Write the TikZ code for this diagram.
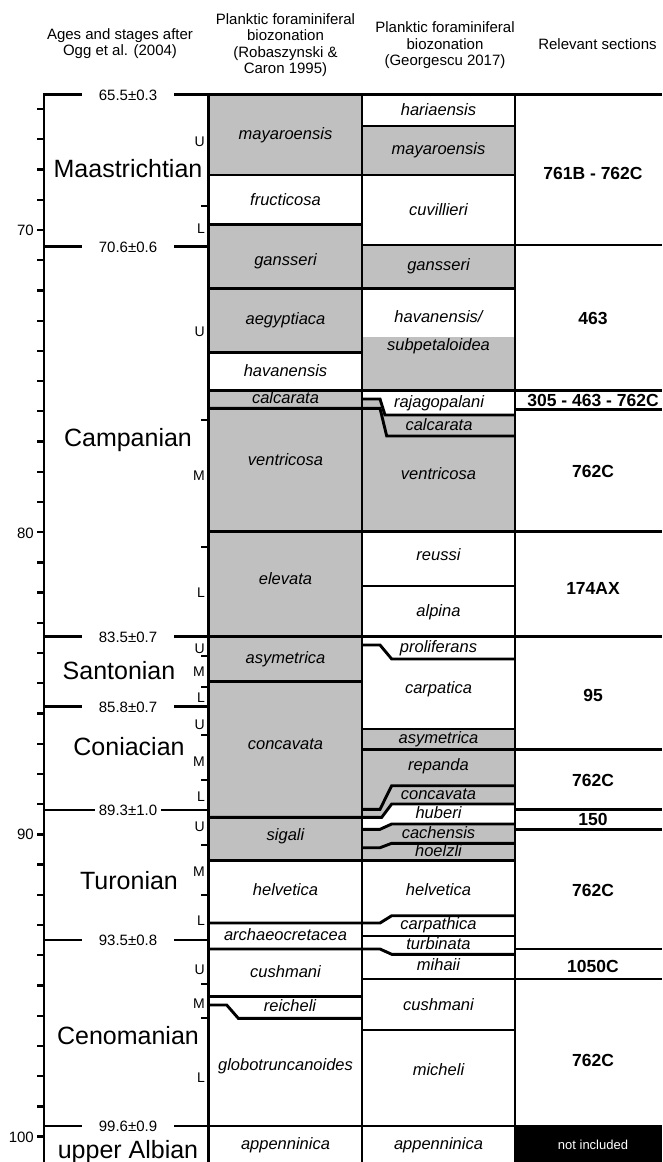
\documentclass[tikz,border=0pt]{standalone}
\usepackage{fontspec}
\setmainfont{Liberation Sans}
\usepackage{tikz}
\definecolor{zgrey}{HTML}{C0C0C0}
\tikzset{
  bnd/.style={line width=2.9pt, black},
  axtick/.style={line width=2.3pt, black},
  subtick/.style={line width=2.2pt, black},
  zone/.style={font=\fontsize{16.5}{18}\selectfont\itshape, inner sep=0pt, text height=11.5pt, text depth=3.5pt},
  stage/.style={font=\fontsize{25}{28}\selectfont, inner sep=0pt, text height=18pt, text depth=0pt},
  agelbl/.style={font=\fontsize{15}{17}\selectfont, inner sep=0pt, text height=10.7pt, text depth=0pt},
  axlbl/.style={agelbl, anchor=east},
  sub/.style={font=\fontsize{14}{16}\selectfont, inner sep=0pt, anchor=east, text height=10pt, text depth=0pt},
  sect/.style={font=\fontsize{17.5}{20}\selectfont\bfseries, inner sep=0pt, text height=12.5pt, text depth=0pt},
  hdr/.style={font=\fontsize{15}{16.3}\selectfont, align=center, inner sep=0pt, anchor=north},
}
% stage boundary with its age between two pieces of line
\newcommand{\stbnd}[5]{\draw[bnd] (44,#1) -- (#2,#1); \draw[bnd] (#3,#1) -- (208.5,#1);
  \node[agelbl] (#4) at (128,#1) {#5};}

\begin{document}
\begin{tikzpicture}[x=1pt,y=-1pt]
\useasboundingbox (0,0) rectangle (662,1162);
% grey zones
\fill[zgrey] (208.5,94.7) rectangle (362,175);
\fill[zgrey] (208.5,224.3) rectangle (362,352.7);
\fill[zgrey] (208.5,390.7) rectangle (362,860.7);
\fill[zgrey] (362,126) rectangle (515,175);
\fill[zgrey] (362,245) rectangle (515,288.3);
\fill[zgrey] (362,336.7) rectangle (515,390.7);
\fill[zgrey] (362,399) -- (380,399) -- (385,415) -- (515,415) -- (515,531.7) -- (362,531.7) -- cycle;
\fill[zgrey] (362,729) -- (515,729) -- (515,804) -- (391.7,804) -- (381.7,817.3) -- (362,817.3) -- cycle;
\fill[zgrey] (362,829.3) -- (380,829.3) -- (391.7,824) -- (515,824) -- (515,860.7) -- (362,860.7) -- cycle;
\fill[black] (515,1126) rectangle (662,1162);
% time axis
\foreach \a in {66,...,100}
  \draw[axtick] (37,{230+(\a-70)*30.22}) -- (44,{230+(\a-70)*30.22});
\foreach \y in {206,420,547,656,687,735,780,845,895,984,1018}
  \draw[subtick] (201,\y) -- (208.5,\y);
\draw[bnd] (82,94.7) -- (44,94.7) -- (44,1162);
\draw[bnd] (174,94.7) -- (662,94.7);
\foreach \x in {208.5,362,515}
  \draw[bnd] (\x,94.7) -- (\x,1162);
\node[agelbl] (a655) at (128,94.7) {65.5±0.3};
\stbnd{246.7}{82}{174}{a706}{70.6±0.6}
\stbnd{636.7}{82}{174}{a835}{83.5±0.7}
\stbnd{706.7}{82}{174}{a858}{85.8±0.7}
\stbnd{810}{95}{161}{a893}{89.3±1.0}
\stbnd{940}{82}{174}{a935}{93.5±0.8}
\stbnd{1126}{82}{174}{a996}{99.6±0.9}
\node[axlbl] (t70) at (34,230) {70};
\node[axlbl] (t80) at (34,532.7) {80};
\node[axlbl] (t90) at (34,834) {90};
\node[axlbl] (t100) at (34,1136.7) {100};
% stages
\node[stage] (maas) at (128,168) {Maastrichtian};
\node[stage] (camp) at (128,437) {Campanian};
\node[stage] (sant) at (119,670) {Santonian};
\node[stage] (coni) at (129,746) {Coniacian};
\node[stage] (turo) at (129,880) {Turonian};
\node[stage] (ceno) at (128,1035) {Cenomanian};
\node[stage] (albi) at (128,1149) {upper Albian};
\foreach \y/\s in {141.7/U,228/L,331/U,475.7/M,592/L,648/U,671.7/M,697/L,724/U,761/M,796.7/L,
  826.7/U,871.7/M,920/L,969/U,1003/M,1077/L}
  \node[sub] (s\y) at (205,\y) {\s};
% zone boundaries
\draw[bnd] (208.5,175) -- (515,175);
\draw[bnd] (208.5,224.3) -- (362,224.3);
\draw[bnd] (208.5,288.3) -- (515,288.3);
\draw[bnd] (208.5,352.7) -- (362,352.7);
\draw[bnd] (208.5,390.7) -- (662,390.7);
\draw[bnd] (208.5,408.3) -- (380,408.3) -- (386.7,436) -- (515,436);
\draw[bnd] (362,399) -- (380,399) -- (385,415) -- (515,415);
\draw[bnd] (515,409.3) -- (662,409.3);
\draw[bnd] (208.5,531.7) -- (662,531.7);
\draw[bnd] (362,586) -- (515,586);
\draw[bnd] (208.5,636.7) -- (662,636.7);
\draw[bnd] (362,645) -- (380,645) -- (391.7,659) -- (515,659);
\draw[bnd] (208.5,681.7) -- (362,681.7);
\draw[bnd] (362,729) -- (515,729);
\draw[bnd] (362,749.3) -- (662,749.3);
\draw[bnd] (515,785.7) -- (391.7,785.7) -- (380,809.3) -- (362,809.3);
\draw[bnd] (515,809.3) -- (662,809.3);
\draw[bnd] (515,804) -- (391.7,804) -- (381.7,817.3) -- (208.5,817.3);
\draw[bnd] (515,824) -- (391.7,824) -- (380,829.3) -- (362,829.3);
\draw[bnd] (515,829.3) -- (662,829.3);
\draw[bnd] (515,843.3) -- (391.7,843.3) -- (380,847.7) -- (362,847.7);
\draw[bnd] (208.5,860.7) -- (515,860.7);
\draw[bnd] (515,915.7) -- (391.7,915.7) -- (380,923) -- (208.5,923);
\draw[bnd] (362,936) -- (515,936);
\draw[bnd] (208.5,949) -- (380,949) -- (391.7,954.3) -- (515,954.3);
\draw[bnd] (515,949) -- (662,949);
\draw[bnd] (362,979) -- (662,979);
\draw[bnd] (208.5,996.7) -- (362,996.7);
\draw[bnd] (208.5,1005) -- (226.7,1005) -- (238.3,1018.3) -- (362,1018.3);
\draw[bnd] (362,1030) -- (515,1030);
\draw[bnd] (208.5,1126) -- (662,1126);
\draw[bnd] (362,126) -- (515,126);
\draw[bnd] (362,245) -- (662,245);
% Robaszynski & Caron 1995
\node[zone] (rc1) at (285.5,135) {mayaroensis};
\node[zone] (rc2) at (285.5,201.7) {fructicosa};
\node[zone] (rc3) at (285.5,261.7) {gansseri};
\node[zone] (rc4) at (285.5,320) {aegyptiaca};
\node[zone] (rc5) at (285.5,372) {havanensis};
\node[zone] (rc6) at (285.5,399.3) {calcarata};
\node[zone] (rc7) at (285.5,461.7) {ventricosa};
\node[zone] (rc8) at (285.5,580) {elevata};
\node[zone] (rc9) at (285.5,659) {asymetrica};
\node[zone] (rc10) at (285.5,745) {concavata};
\node[zone] (rc11) at (285.5,836.7) {sigali};
\node[zone] (rc12) at (285.5,891.7) {helvetica};
\node[zone] (rc13) at (285.5,936.5) {archaeocretacea};
\node[zone] (rc14) at (285.5,973) {cushmani};
\node[zone] (rc15) at (290,1007.5) {reicheli};
\node[zone] (rc16) at (285.5,1066.7) {globotruncanoides};
\node[zone] (rc17) at (285.5,1145) {appenninica};
% Georgescu 2017
\node[zone] (ge1) at (438.5,111.7) {hariaensis};
\node[zone] (ge2) at (438.5,150) {mayaroensis};
\node[zone] (ge3) at (438.5,211) {cuvillieri};
\node[zone] (ge4) at (438.5,266.7) {gansseri};
\node[zone] (ge5) at (438.5,318) {havanensis/};
\node[zone] (ge5b) at (438.5,346.7) {subpetaloidea};
\node[zone] (ge6) at (439,403.5) {rajagopalani};
\node[zone] (ge7) at (439,426.7) {calcarata};
\node[zone] (ge8) at (438.5,475.7) {ventricosa};
\node[zone] (ge9) at (438.5,556) {reussi};
\node[zone] (ge10) at (438.5,612) {alpina};
\node[zone] (ge11) at (438.5,648.5) {proliferans};
\node[zone] (ge12) at (438.5,689) {carpatica};
\node[zone] (ge13) at (438.5,739.3) {asymetrica};
\node[zone] (ge14) at (438.5,766) {repanda};
\node[zone] (ge15) at (438.5,795) {concavata};
\node[zone] (ge16) at (438.5,814.3) {huberi};
\node[zone] (ge17) at (438.5,834) {cachensis};
\node[zone] (ge18) at (438.5,852.7) {hoelzli};
\node[zone] (ge19) at (438.5,891.7) {helvetica};
\node[zone] (ge20) at (438.5,925.5) {carpathica};
\node[zone] (ge21) at (438.5,945.7) {turbinata};
\node[zone] (ge22) at (438.5,966.7) {mihaii};
\node[zone] (ge23) at (438.5,1006) {cushmani};
\node[zone] (ge24) at (438.5,1071.7) {micheli};
\node[zone] (ge25) at (438.5,1145) {appenninica};
% sections
\node[sect] (sc1) at (593,173.3) {761B - 762C};
\node[sect] (sc2) at (593,318) {463};
\node[sect] (sc3) at (593,399.8) {305 - 463 - 762C};
\node[sect] (sc4) at (593,471.7) {762C};
\node[sect] (sc5) at (593,588) {174AX};
\node[sect] (sc6) at (593,695) {95};
\node[sect] (sc7) at (593,780) {762C};
\node[sect] (sc8) at (593,819.3) {150};
\node[sect] (sc9) at (593,890) {762C};
\node[sect] (sc10) at (593,966.7) {1050C};
\node[sect] (sc11) at (593,1060.7) {762C};
\node[font=\fontsize{13}{15}\selectfont, white, inner sep=0pt] (sc12) at (593,1145) {not included};
% headings
\node[hdr] (h1) at (120,28.5) {Ages and stages after\\Ogg et al. (2004)};
\node[hdr] (h2) at (285.5,13.5) {Planktic foraminiferal\\biozonation\\(Robaszynski \&\\Caron 1995)};
\node[hdr] (h3) at (445,21.8) {Planktic foraminiferal\\biozonation\\(Georgescu 2017)};
\node[hdr] (h4) at (597.5,38.5) {Relevant sections};
\end{tikzpicture}
\end{document}
